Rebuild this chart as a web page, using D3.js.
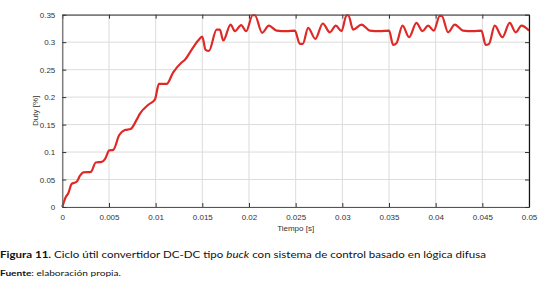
<!DOCTYPE html>
<html><head><meta charset="utf-8">
<script src="https://cdn.jsdelivr.net/npm/d3@7"></script>
<style>body{margin:0;background:#fff}svg{display:block}</style>
</head><body><svg id="c" width="554" height="295"></svg>
<script>
const timeS = [0,0.0004,0.00064,0.0010,0.00154,0.0019,0.00225,0.00307,0.00358,0.00422,0.00457,0.00503,0.00546,0.0061,0.00671,0.00732,0.00797,0.00832,0.00921,0.00993,0.01035,0.01118,0.01188,0.01278,0.01314,0.01385,0.01456,0.01499,0.01535,0.01571,0.01653,0.01688,0.01724,0.01803,0.01849,0.01916,0.0197,0.02039,0.02063,0.02141,0.02213,0.02296,0.0240,0.02491,0.02545,0.02577,0.02634,0.02711,0.02791,0.02866,0.0293,0.02991,0.03045,0.03064,0.03116,0.03206,0.03294,0.0340,0.03501,0.03544,0.0358,0.03645,0.03715,0.03794,0.03859,0.03919,0.0398,0.04044,0.04065,0.04133,0.04205,0.04293,0.0440,0.0449,0.04536,0.04572,0.04633,0.04715,0.04793,0.04858,0.04919,0.05];
const duty = [0,0.019,0.025,0.042,0.046,0.057,0.063,0.064,0.081,0.082,0.087,0.103,0.104,0.131,0.140,0.142,0.159,0.170,0.186,0.196,0.224,0.224,0.245,0.263,0.268,0.286,0.303,0.310,0.286,0.284,0.323,0.323,0.303,0.332,0.320,0.331,0.320,0.349,0.349,0.317,0.330,0.321,0.320,0.321,0.297,0.297,0.326,0.306,0.334,0.318,0.330,0.320,0.349,0.349,0.323,0.332,0.321,0.320,0.321,0.295,0.298,0.330,0.309,0.335,0.320,0.330,0.321,0.348,0.348,0.318,0.332,0.321,0.320,0.321,0.295,0.297,0.330,0.309,0.335,0.318,0.330,0.321];
const xTicks = [0,0.005,0.01,0.015,0.02,0.025,0.03,0.035,0.04,0.045,0.05];
const xTickLabels = ["0","0.005","0.01","0.015","0.02","0.025","0.03","0.035","0.04","0.045","0.05"];
const yTicks = [0,0.05,0.1,0.15,0.2,0.25,0.3,0.35];
const yTickLabels = ["0","0.05","0.1","0.15","0.2","0.25","0.3","0.35"];

const svg = d3.select("#c");
const L=62.3,R=529,T=14.7,B=207;
const x = d3.scaleLinear().domain([0,0.05]).range([L,R]);
const y = d3.scaleLinear().domain([0,0.35]).range([B,T]);
const tf = "Liberation Sans, Arial, sans-serif";

// grid
svg.append("g").selectAll("line").data(xTicks).join("line")
  .attr("x1",d=>x(d)).attr("x2",d=>x(d)).attr("y1",T).attr("y2",B)
  .attr("stroke","#dcdcdc").attr("stroke-width",1);
svg.append("g").selectAll("line").data(yTicks).join("line")
  .attr("x1",L).attr("x2",R).attr("y1",d=>y(d)).attr("y2",d=>y(d))
  .attr("stroke","#dcdcdc").attr("stroke-width",1);

// data line
const line = d3.line().x((d,i)=>x(timeS[i])).y(d=>y(d)).curve(d3.curveMonotoneX);
svg.append("path").datum(duty).attr("d",line)
  .attr("fill","none").attr("stroke","#de2a26").attr("stroke-width",2.2)
  .attr("stroke-linejoin","round");

// axes
const axB = d3.axisBottom(x).tickValues(xTicks).tickFormat((d,i)=>xTickLabels[i]).tickSizeInner(-4).tickSizeOuter(0).tickPadding(7);
const axT = d3.axisTop(x).tickValues(xTicks).tickFormat("").tickSizeInner(-4).tickSizeOuter(0);
const axL = d3.axisLeft(y).tickValues(yTicks).tickFormat((d,i)=>yTickLabels[i]).tickSizeInner(-4).tickSizeOuter(0).tickPadding(7);
const axR = d3.axisRight(y).tickValues(yTicks).tickFormat("").tickSizeInner(-4).tickSizeOuter(0);
function style(g,col){g.select(".domain").attr("stroke",col).attr("stroke-width",1.2);
  g.selectAll(".tick line").attr("stroke","#333");
  g.selectAll("text").attr("font-family",tf).attr("font-size",8).attr("fill","#333");}
svg.append("g").attr("transform",`translate(0,${B})`).call(axB).call(g=>style(g,"#555"));
svg.append("g").attr("transform",`translate(0,${T})`).call(axT).call(g=>style(g,"#555"));
svg.append("g").attr("transform",`translate(${L},0)`).call(axL).call(g=>style(g,"#666"));
svg.append("g").attr("transform",`translate(${R},0)`).call(axR).call(g=>style(g,"#111"));

svg.append("text").attr("x",(L+R)/2).attr("y",231).attr("text-anchor","middle")
  .attr("font-family",tf).attr("font-size",8).attr("fill","#333").text("Tiempo [s]");
svg.append("text").attr("transform",`translate(38,${(T+B)/2}) rotate(-90)`).attr("text-anchor","middle")
  .attr("font-family",tf).attr("font-size",8).attr("fill","#333").text("Duty [%]");

const cf = "Lato, 'Open Sans', sans-serif";
const cap = svg.append("text").attr("x",0).attr("y",258).attr("font-family",cf).attr("font-size",10.2).attr("fill","#111")
  .attr("textLength",486).attr("lengthAdjust","spacingAndGlyphs");
cap.append("tspan").attr("font-weight","bold").text("Figura 11.");
cap.append("tspan").text(" Ciclo útil convertidor DC-DC tipo ");
cap.append("tspan").attr("font-style","italic").text("buck");
cap.append("tspan").text(" con sistema de control basado en lógica difusa");
const src = svg.append("text").attr("x",0).attr("y",276).attr("font-family",cf).attr("font-size",8).attr("fill","#111")
  .attr("textLength",121).attr("lengthAdjust","spacingAndGlyphs");
src.append("tspan").attr("font-weight","bold").text("Fuente");
src.append("tspan").text(": elaboración propia.");
</script></body></html>
